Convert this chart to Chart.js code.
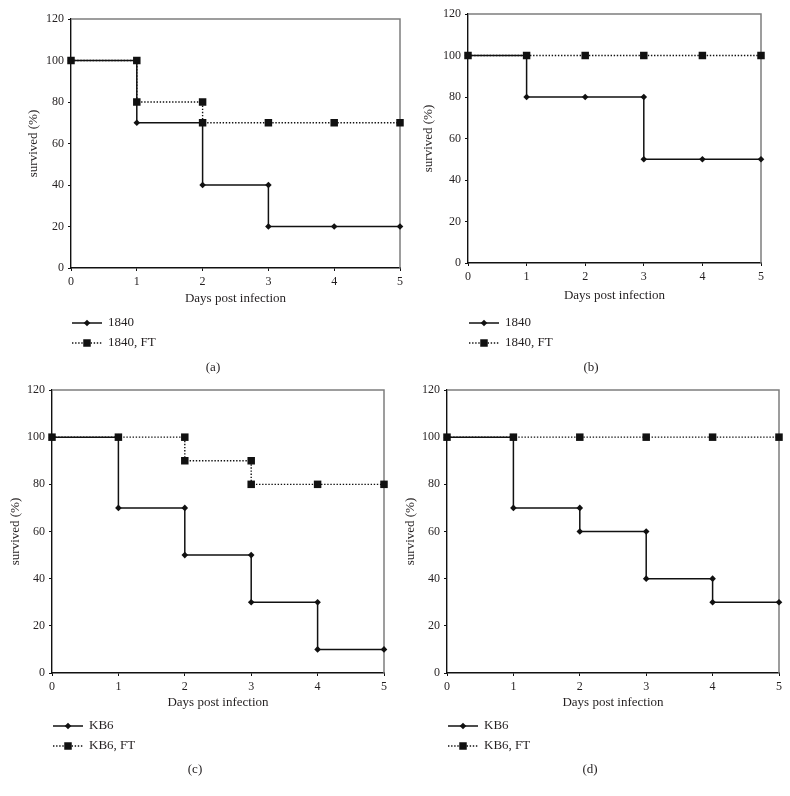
<!DOCTYPE html>
<html>
<head>
<meta charset="utf-8">
<script src="https://cdn.jsdelivr.net/npm/chart.js@4/dist/chart.umd.min.js"></script>
<style>
    html, body { margin: 0; padding: 0; background: #fff; }
    #pagina { position: relative; width: 790px; height: 796px; }
    #pagina canvas { position: absolute; left: 0; top: 0; }
</style>
</head>
<body>
<div id="pagina">
    <canvas id="grafico_a" width="790" height="796"></canvas>
    <canvas id="grafico_b" width="790" height="796"></canvas>
    <canvas id="grafico_c" width="790" height="796"></canvas>
    <canvas id="grafico_d" width="790" height="796"></canvas>
</div>
<script>
// survival (%) read per day, 0..5
const days = [0, 1, 2, 3, 4, 5]

const a_1840 = [100, 70, 40, 20, 20, 20]
const a_1840FT = [100, 80, 70, 70, 70, 70]
const b_1840 = [100, 80, 80, 50, 50, 50]
const b_1840FT = [100, 100, 100, 100, 100, 100]
const c_KB6 = [100, 70, 50, 30, 10, 10]
const c_KB6FT = [100, 100, 90, 80, 80, 80]
const d_KB6 = [100, 70, 60, 40, 30, 30]
const d_KB6FT = [100, 100, 100, 100, 100, 100]

const yTicks = { min: 0, max: 120, step: 20 }
const xTicks = { min: 0, max: 5, step: 1 }

const xTitle = 'Days post infection'
const yTitle = 'survived (%)'

const INK = '#231f20'
const FONT = 'Liberation Serif, Times New Roman, serif'

// page geometry of each panel (plot box, titles, legend, caption)
const panels = [
    { id: 'a', caption: '(a)', names: ['1840', '1840, FT'], values: [a_1840, a_1840FT],
      L: 71, T: 19, R: 400, B: 268, yTitleX: 33.5, xTitleY: 299, legY: [323, 343], capX: 213, capY: 368 },
    { id: 'b', caption: '(b)', names: ['1840', '1840, FT'], values: [b_1840, b_1840FT],
      L: 468, T: 14, R: 761, B: 263, yTitleX: 429, xTitleY: 296, legY: [323, 343], capX: 591, capY: 368 },
    { id: 'c', caption: '(c)', names: ['KB6', 'KB6, FT'], values: [c_KB6, c_KB6FT],
      L: 52, T: 390, R: 384, B: 673, yTitleX: 16, xTitleY: 702.5, legY: [726, 746], capX: 195, capY: 770 },
    { id: 'd', caption: '(d)', names: ['KB6', 'KB6, FT'], values: [d_KB6, d_KB6FT],
      L: 447, T: 390, R: 779, B: 673, yTitleX: 411, xTitleY: 702.5, legY: [726, 746], capX: 590, capY: 770 }
]

// Kaplan-Meier style steps: a drop on day i gives a point before and after it
function steps(valori) {
    let punti = [{ x: days[0], y: valori[0] }]
    for (let i = 1; i < days.length; i++) {
        if (valori[i] != valori[i - 1])
            punti.push({ x: days[i], y: valori[i - 1] })
        punti.push({ x: days[i], y: valori[i] })
    }
    return punti
}

function marker(ctx, style, r, x, y) {
    ctx.beginPath()
    if (style == 'rectRot') {
        ctx.moveTo(x, y - r)
        ctx.lineTo(x + r, y)
        ctx.lineTo(x, y + r)
        ctx.lineTo(x - r, y)
    } else {
        let s = r * Math.SQRT1_2
        ctx.rect(x - s, y - s, 2 * s, 2 * s)
    }
    ctx.closePath()
    ctx.fill()
}

const framePlugin = {
    id: 'frame',
    beforeDatasetsDraw(chart) {
        const { ctx, chartArea: a } = chart
        ctx.save()
        ctx.strokeStyle = '#7d7d7d'
        ctx.lineWidth = 1.5
        ctx.beginPath()
        ctx.moveTo(a.left, a.top)
        ctx.lineTo(a.right, a.top)
        ctx.lineTo(a.right, a.bottom)
        ctx.stroke()
        ctx.restore()
    }
}

const legendPlugin = {
    id: 'legendaKM',
    afterDraw(chart, args, opts) {
        const { ctx, chartArea: a } = chart
        ctx.save()
        chart.data.datasets.forEach((ds, i) => {
            let y = opts.y[i]
            let x0 = a.left + 1
            let x1 = x0 + 30
            ctx.strokeStyle = ds.borderColor
            ctx.lineWidth = ds.borderWidth
            ctx.setLineDash(ds.borderDash || [])
            ctx.beginPath()
            ctx.moveTo(x0, y)
            ctx.lineTo(x1, y)
            ctx.stroke()
            ctx.setLineDash([])
            ctx.fillStyle = ds.pointBackgroundColor
            marker(ctx, ds.pointStyle, ds.pointRadius, (x0 + x1) / 2, y)
            ctx.fillStyle = INK
            ctx.font = '13px ' + FONT
            ctx.textAlign = 'left'
            ctx.textBaseline = 'middle'
            ctx.fillText(ds.label, x1 + 6, y)
        })
        ctx.font = '13px ' + FONT
        ctx.textAlign = 'center'
        ctx.textBaseline = 'middle'
        ctx.fillStyle = INK
        ctx.fillText(opts.caption, opts.capX, opts.capY)
        ctx.restore()
    }
}

const LH = 13 * 1.2 / 2

panels.forEach((p) => {
    let elemento = document.getElementById('grafico_' + p.id)

    new Chart(elemento, {
        type: 'line',
        data: {
            datasets: [
                {
                    label: p.names[0],
                    data: steps(p.values[0]),
                    borderColor: '#111',
                    borderWidth: 1.5,
                    pointStyle: 'rectRot',
                    pointRadius: 3.3,
                    pointBorderWidth: 0,
                    pointBackgroundColor: '#111',
                    clip: false,
                    order: 1
                },
                {
                    label: p.names[1],
                    data: steps(p.values[1]),
                    borderColor: '#111',
                    borderWidth: 1.4,
                    borderDash: [1.4, 1.7],
                    pointStyle: 'rect',
                    pointRadius: 5.3,
                    pointBorderWidth: 0,
                    pointBackgroundColor: '#111',
                    clip: false,
                    order: 2
                }
            ]
        },
        options: {
            responsive: false,
            animation: false,
            events: [],
            layout: {
                padding: { left: p.yTitleX - LH, top: p.T, right: 790 - p.R, bottom: 796 - (p.xTitleY + LH) }
            },
            plugins: {
                legend: { display: false },
                tooltip: { enabled: false },
                legendaKM: { y: p.legY, caption: p.caption, capX: p.capX, capY: p.capY }
            },
            scales: {
                x: {
                    type: 'linear',
                    min: xTicks.min,
                    max: xTicks.max,
                    ticks: { stepSize: xTicks.step, padding: 4, color: INK, font: { family: FONT, size: 12 } },
                    grid: { drawOnChartArea: false, tickLength: 3, color: '#111' },
                    border: { color: '#111', width: 1.4 },
                    title: { display: true, text: xTitle, padding: 0, color: INK, font: { family: FONT, size: 13 } },
                    afterFit: (s) => { s.height = p.xTitleY + LH - p.B }
                },
                y: {
                    type: 'linear',
                    min: yTicks.min,
                    max: yTicks.max,
                    ticks: { stepSize: yTicks.step, padding: 4, color: INK, font: { family: FONT, size: 12 } },
                    grid: { drawOnChartArea: false, tickLength: 3, color: '#111' },
                    border: { color: '#111', width: 1.4 },
                    title: { display: true, text: yTitle, padding: 0, color: INK, font: { family: FONT, size: 13 } },
                    afterFit: (s) => { s.width = p.L - (p.yTitleX - LH) }
                }
            }
        },
        plugins: [framePlugin, legendPlugin]
    })
})
</script>
</body>
</html>
